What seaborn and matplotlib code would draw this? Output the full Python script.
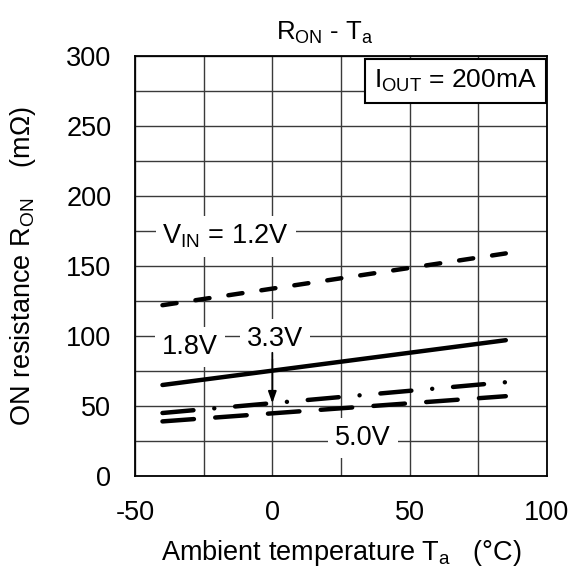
import numpy as np
import pandas as pd
import matplotlib
matplotlib.use('Agg')
import matplotlib.pyplot as plt
import seaborn as sns

# values
temps = [-40, 85]
ron_12v = [122, 159]
ron_18v = [65, 97]
ron_33v = [45, 67]
ron_50v = [39, 57]

x_ticks = [-50, 0, 50, 100]
y_ticks = [0, 50, 100, 150, 200, 250, 300]

sns.set_style('white')
plt.rcParams['font.family'] = ['Liberation Sans', 'DejaVu Sans']
plt.rcParams['mathtext.fontset'] = 'custom'
plt.rcParams['mathtext.rm'] = 'Liberation Sans'
plt.rcParams['mathtext.it'] = 'Liberation Sans:italic'
plt.rcParams['axes.unicode_minus'] = False
for k in ['text.color', 'axes.labelcolor', 'xtick.color', 'ytick.color']:
    plt.rcParams[k] = 'black'

FS = 19.5

fig = plt.figure(figsize=(5.73, 5.71), dpi=100)
ax = fig.add_axes([135 / 573, 1 - 476 / 571, 412 / 573, 420 / 571])

series = [
    (ron_12v, (0, (3.2, 4.3))),
    (ron_18v, '-'),
    (ron_33v, (0, (7.0, 4.7, 0.01, 4.7))),
    (ron_50v, (0, (7.1, 4.8))),
]
for vals, ls in series:
    sns.lineplot(x=temps, y=vals, ax=ax, color='black', lw=3.2,
                 linestyle=ls, dash_capstyle='round', solid_capstyle='round', zorder=3)

ax.set_xlim(-50, 100)
ax.set_ylim(0, 300)
ax.set_xticks(x_ticks)
ax.set_xticks(np.arange(-50, 101, 25), minor=True)
ax.set_yticks(y_ticks)
ax.set_yticks(np.arange(0, 301, 25), minor=True)
ax.grid(which='both', color='#3a3a3a', lw=1)
ax.set_axisbelow(True)
ax.tick_params(which='both', length=0, labelsize=FS)
ax.tick_params(axis='y', pad=17)
ax.tick_params(axis='x', pad=17)
for s in ax.spines.values():
    s.set_color('black')
    s.set_linewidth(1.3)

ax.set_title(r'R$_{\mathrm{ON}}$ - T$_{\mathrm{a}}$', fontsize=18.5, pad=12, x=0.46)
ax.set_xlabel(r'Ambient temperature T$_{\mathrm{a}}$   (°C)', fontsize=FS, labelpad=9)
ax.set_ylabel(r'ON resistance R$_{\mathrm{ON}}$    (m$\Omega$)', fontsize=FS, labelpad=20)

box = dict(boxstyle='square,pad=0.25', fc='white', ec='none')
ax.text(-40, 171, r'V$_{\mathrm{IN}}$ = 1.2V ', fontsize=FS, ha='left', va='center', bbox=box, zorder=4)
ax.text(-30, 92, '1.8V', fontsize=FS, ha='center', va='center', bbox=box, zorder=4)
ax.text(1, 98, '3.3V', fontsize=FS, ha='center', va='center', bbox=box, zorder=4)
ax.text(33, 27, '5.0V', fontsize=FS, ha='center', va='center', bbox=box, zorder=4)
ax.annotate('', xy=(0, 52), xytext=(0, 88),
            arrowprops=dict(arrowstyle='-|>,head_length=0.7,head_width=0.25',
                            color='black', lw=1.3, shrinkA=0, shrinkB=0), zorder=4)

ax.annotate(r'I$_{\mathrm{OUT}}$ = 200mA', xy=(1, 1), xycoords='axes fraction',
            xytext=(-7.5, -8.5), textcoords='offset points',
            fontsize=19, ha='right', va='top', zorder=5,
            bbox=dict(boxstyle='square,pad=0.35', fc='white', ec='black', lw=1.5))

fig.savefig('out.png', dpi=100)
